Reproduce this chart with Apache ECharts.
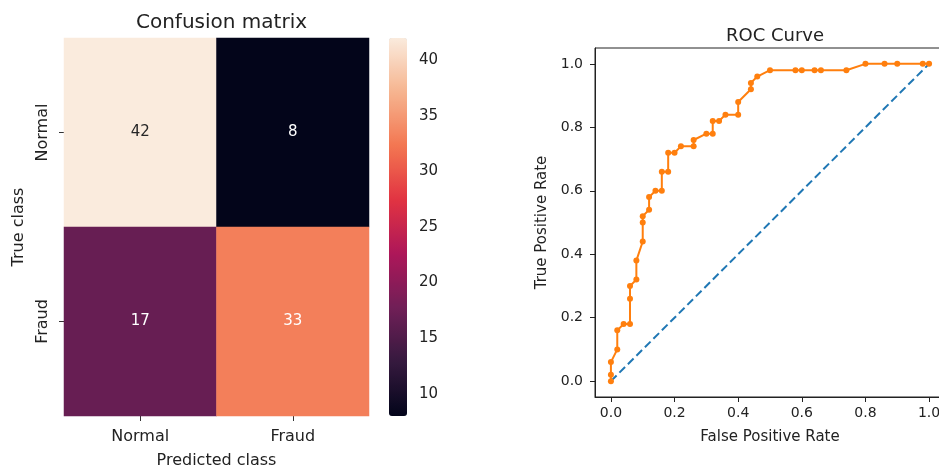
<!DOCTYPE html>
<html><head><meta charset="utf-8">
<script src="https://cdn.jsdelivr.net/npm/echarts@6/dist/echarts.min.js"></script>
<style>html,body{margin:0;padding:0;background:#fff}#c{width:939px;height:468px}</style>
</head><body><div id="c"></div>
<script>
// ---- data ----
const predictedClasses = ['Normal', 'Fraud'];
const trueClasses = ['Normal', 'Fraud'];
// rows: true class, columns: predicted class
const confusionValues = [[42, 8], [17, 33]];
const colorbarMin = 8;
const colorbarMax = 42;
const colorbarTicks = [10, 15, 20, 25, 30, 35, 40];
const rocFpr = [0, 0, 0, 0.02, 0.02, 0.04, 0.06, 0.06, 0.06, 0.08, 0.08, 0.10, 0.10, 0.10, 0.12, 0.12, 0.14, 0.16, 0.16, 0.18, 0.18, 0.20, 0.22, 0.26, 0.26, 0.30, 0.32, 0.32, 0.34, 0.36, 0.40, 0.40, 0.44, 0.44, 0.46, 0.50, 0.58, 0.60, 0.64, 0.66, 0.74, 0.80, 0.86, 0.90, 0.98, 1.00];
const rocTpr = [0, 0.02, 0.06, 0.10, 0.16, 0.18, 0.18, 0.26, 0.30, 0.32, 0.38, 0.44, 0.50, 0.52, 0.54, 0.58, 0.60, 0.60, 0.66, 0.66, 0.72, 0.72, 0.74, 0.74, 0.76, 0.78, 0.78, 0.82, 0.82, 0.84, 0.84, 0.88, 0.92, 0.94, 0.96, 0.98, 0.98, 0.98, 0.98, 0.98, 0.98, 1.0, 1.0, 1.0, 1.0, 1.0];
const chanceFpr = [0, 1];
const chanceTpr = [0, 1];
const rateTicks = [0, 0.2, 0.4, 0.6, 0.8, 1.0];

// ---- build ----
const rocket = ['#03051a', '#35193e', '#701f57', '#ad1759', '#e13342', '#f37651', '#f6b48f', '#faebdd'];
const heatData = [];
confusionValues.forEach((row, i) => row.forEach((v, j) => {
  const norm = (v - colorbarMin) / (colorbarMax - colorbarMin);
  heatData.push({ value: [j, i, v], label: { color: norm > 0.8 ? '#262626' : '#ffffff' } });
}));
const rocData = rocFpr.map((x, k) => [x, rocTpr[k]]);
const chanceData = chanceFpr.map((x, k) => [x, chanceTpr[k]]);

const FONT = 'DejaVu Sans';
const TXT = '#222';
const chart = echarts.init(document.getElementById('c'), null, { renderer: 'canvas' });
chart.setOption({
  animation: false,
  backgroundColor: '#fff',
  textStyle: { fontFamily: FONT, color: TXT },
  title: [
    { text: 'Confusion matrix', left: 216.5, top: 8, textAlign: 'center',
      textStyle: { fontFamily: FONT, fontSize: 20, fontWeight: 'normal', color: TXT } },
    { text: 'ROC Curve', left: 770, top: 22, textAlign: 'center',
      textStyle: { fontFamily: FONT, fontSize: 18, fontWeight: 'normal', color: TXT } }
  ],
  grid: [
    { left: 64, top: 38, width: 305, height: 378, outerBoundsMode: 'none', containLabel: false },
    { left: 595, top: 48, width: 350, height: 349, outerBoundsMode: 'none', containLabel: false,
      show: true, borderColor: '#222', borderWidth: 1, backgroundColor: 'transparent' },
    { left: 389, top: 38, width: 18, height: 378, outerBoundsMode: 'none', containLabel: false }
  ],
  xAxis: [
    { type: 'category', gridIndex: 0, data: predictedClasses, position: 'bottom',
      name: 'Predicted class', nameLocation: 'middle', nameGap: 37,
      nameTextStyle: { fontFamily: FONT, fontSize: 16, color: TXT },
      axisLine: { show: false },
      axisTick: { show: true, alignWithLabel: true, length: 5, lineStyle: { color: '#333' } },
      axisLabel: { fontFamily: FONT, fontSize: 16, color: TXT, margin: 13 },
      splitLine: { show: false } },
    { type: 'value', gridIndex: 1, min: -0.05, max: 1.05, position: 'bottom',
      name: 'False Positive Rate', nameLocation: 'middle', nameGap: 33,
      nameTextStyle: { fontFamily: FONT, fontSize: 15, color: TXT },
      axisLine: { show: true, onZero: false, lineStyle: { color: '#222' } },
      axisTick: { show: true, length: 5, customValues: rateTicks, lineStyle: { color: '#222' } },
      axisLabel: { fontFamily: FONT, fontSize: 14, color: TXT, margin: 9, customValues: rateTicks, formatter: v => v.toFixed(1) },
      splitLine: { show: false } },
    { type: 'value', gridIndex: 2, show: false, min: 0, max: 1 }
  ],
  yAxis: [
    { type: 'category', gridIndex: 0, data: trueClasses, inverse: true,
      name: 'True class', nameLocation: 'middle', nameGap: 37,
      nameTextStyle: { fontFamily: FONT, fontSize: 16, color: TXT },
      axisLine: { show: false },
      axisTick: { show: true, alignWithLabel: true, length: 5, lineStyle: { color: '#333' } },
      axisLabel: { fontFamily: FONT, fontSize: 16, color: TXT, margin: 13, rotate: 90 },
      splitLine: { show: false } },
    { type: 'value', gridIndex: 1, min: -0.05, max: 1.05,
      name: 'True Positive Rate', nameLocation: 'middle', nameGap: 45,
      nameTextStyle: { fontFamily: FONT, fontSize: 15, color: TXT },
      axisLine: { show: true, onZero: false, lineStyle: { color: '#222' } },
      axisTick: { show: true, length: 5, customValues: rateTicks, lineStyle: { color: '#222' } },
      axisLabel: { fontFamily: FONT, fontSize: 14, color: TXT, margin: 12, customValues: rateTicks, formatter: v => v.toFixed(1) },
      splitLine: { show: false } },
    { type: 'value', gridIndex: 2, min: colorbarMin, max: colorbarMax, position: 'right',
      axisLine: { show: false },
      axisTick: { show: true, length: 5, customValues: colorbarTicks, lineStyle: { color: '#333' } },
      axisLabel: { fontFamily: FONT, fontSize: 15, color: TXT, margin: 12, customValues: colorbarTicks },
      splitLine: { show: false } }
  ],
  visualMap: {
    type: 'continuous', seriesIndex: 0, min: colorbarMin, max: colorbarMax,
    calculable: false, show: true, left: 389, top: 38, itemWidth: 18, itemHeight: 378,
    padding: 0, text: null, showLabel: false,
    inRange: { color: rocket }
  },
  series: [
    { type: 'heatmap', xAxisIndex: 0, yAxisIndex: 0, data: heatData,
      label: { show: true, fontFamily: FONT, fontSize: 15 },
      itemStyle: { borderWidth: 0 },
      emphasis: { disabled: true } },
    { type: 'line', xAxisIndex: 1, yAxisIndex: 1, data: rocData,
      symbol: 'circle', symbolSize: 6, showSymbol: true,
      lineStyle: { color: '#ff7f0e', width: 2 }, itemStyle: { color: '#ff7f0e', borderWidth: 0 },
      emphasis: { disabled: true } },
    { type: 'line', xAxisIndex: 1, yAxisIndex: 1, data: chanceData,
      symbol: 'none',
      lineStyle: { color: '#1f77b4', width: 2, type: [8, 4] },
      emphasis: { disabled: true } }
  ]
});
</script>
</body></html>
